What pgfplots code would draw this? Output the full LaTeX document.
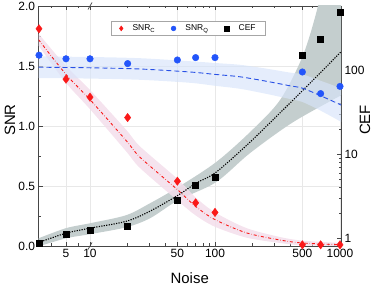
\documentclass[border=0pt]{standalone}
\usepackage{fontspec}
\setmainfont{Liberation Sans}
\usepackage{pgfplots}
\pgfplotsset{compat=1.18}
\usepgfplotslibrary{fillbetween}

\definecolor{cred}{RGB}{250,25,25}
\definecolor{cblue}{RGB}{35,85,250}
\definecolor{cbluefit}{RGB}{40,80,230}
\definecolor{cpink}{RGB}{243,222,235}
\definecolor{cbband}{RGB}{215,228,250}
\definecolor{cgband}{RGB}{196,206,206}
\definecolor{caxis}{RGB}{70,70,70}

\begin{document}
\begin{tikzpicture}
\pgfplotsset{
  common/.style={
    scale only axis, width=302.5bp, height=240bp,
    xmin=0.588, xmax=3.008,
    axis line style={caxis, line width=0.7bp},
    every tick/.style={caxis, line width=0.6bp},
    major tick length=4bp, minor tick length=2.5bp,
    tick label style={font=\fontsize{12}{13}\selectfont},
    label style={font=\fontsize{15}{16}\selectfont},
    /pgf/number format/assume math mode=true,
  }
}
% ---------------- CEF axis (right, log) ----------------
\begin{axis}[common, name=cef,
  ymode=log, ymin=0.81, ymax=578,
  hide x axis, axis y line*=right,
  ytick={1,10,100}, yticklabels={1,10,100},
  ylabel={CEF},
  ylabel style={at={(axis description cs:1.079,0.525)}, anchor=center},
]
\addplot[name path=gu, draw=none, forget plot, smooth] coordinates {
 (0.588,1.0) (0.808,1.32) (1.0,1.51) (1.288,1.88) (1.48,2.61) (1.704,4.05)
 (2.008,8.03) (2.28,18.3) (2.52,44) (2.704,150) (2.824,578) (2.92,2680) (3.008,10500)};
\addplot[name path=gl, draw=none, forget plot, smooth] coordinates {
 (0.588,0.80) (0.808,1.0) (1.0,1.12) (1.288,1.35) (1.48,1.73) (1.704,2.83)
 (2.008,4.64) (2.28,10.3) (2.624,24) (3.008,50)};
\addplot[fill=cgband, draw=none, forget plot] fill between[of=gu and gl];
\addplot[black, dash pattern=on 1.2bp off 1.3bp, line width=1.1bp, smooth, forget plot] coordinates {
 (0.588,0.89) (0.808,1.15) (1.0,1.32) (1.288,1.59) (1.48,2.1) (1.704,3.25)
 (1.848,4.52) (2.008,6.1) (2.28,13.9) (2.624,44) (2.84,92) (3.008,165)};
\addplot[only marks, mark=square*, mark size=3bp, black, forget plot] coordinates {
 (0.592,0.87) (0.808,1.12) (1.0,1.25) (1.301,1.41) (1.699,2.83) (1.845,4.31)
 (2.0,5.37) (2.699,150) (2.845,232) (3.0,486)};
\end{axis}
% ---------------- SNR axis (left, linear) ----------------
\begin{axis}[common, name=snr,
  ymin=0, ymax=2,
  ytick={0,0.5,1,1.5,2}, minor ytick={0.25,0.75,1.25,1.75},
  y tick label style={/pgf/number format/fixed, /pgf/number format/fixed zerofill,
    /pgf/number format/precision=1},
  ytick pos=left, xtick pos=both,
  xtick={0.808,1,1.699,2,2.699,3}, xticklabels={5,10,50,100,500,1000},
  minor xtick={0.688,0.904,1.301,1.477,1.602,1.778,1.845,1.903,1.954,2.301,2.477,2.602,2.778,2.845,2.903,2.954},
  grid=major, major grid style={gray!18, line width=0.4bp},
  xlabel={Noise}, ylabel={SNR},
  xlabel style={at={(axis description cs:0.5,-0.135)}, anchor=center},
  ylabel style={at={(axis description cs:-0.094,0.525)}, anchor=center},
  legend columns=3,
  legend style={at={(axis description cs:0.496,0.9375)}, anchor=north,
    font=\fontsize{8.5}{9}\selectfont, draw=gray!70, line width=0.5bp,
    inner xsep=8bp, inner ysep=1.5bp,
    /tikz/every odd column/.append style={column sep=7.5bp},
    /tikz/every even column/.append style={column sep=14bp}},
  legend image post style={mark size=2.4bp},
]
\addplot[name path=ru, draw=none, forget plot, smooth] coordinates {
 (0.588,1.77) (0.808,1.50) (1.0,1.30) (1.288,0.97) (1.4,0.83) (1.699,0.56)
 (1.845,0.405) (2.0,0.28) (2.25,0.15) (2.52,0.075) (2.699,0.045) (3.008,0.025)};
\addplot[name path=rl, draw=none, forget plot, smooth] coordinates {
 (0.588,1.67) (0.808,1.36) (1.0,1.14) (1.288,0.79) (1.4,0.65) (1.699,0.38)
 (1.845,0.255) (2.0,0.16) (2.25,0.07) (2.52,0.025) (2.699,0.005) (3.008,0.0)};
\addplot[fill=cpink, fill opacity=0.85, draw=none, forget plot] fill between[of=ru and rl];
\addplot[name path=bu, draw=none, forget plot, smooth] coordinates {
 (0.588,1.58) (1.0,1.575) (1.4,1.565) (1.8,1.54) (2.0,1.525) (2.2,1.51)
 (2.4,1.48) (2.6,1.445) (2.7,1.43) (2.85,1.375) (3.008,1.315)};
\addplot[name path=bl, draw=none, forget plot, smooth] coordinates {
 (0.588,1.40) (1.0,1.395) (1.4,1.385) (1.8,1.36) (2.0,1.335) (2.2,1.31)
 (2.4,1.27) (2.6,1.225) (2.7,1.20) (2.85,1.125) (3.008,1.035)};
\addplot[fill=cbband, fill opacity=0.65, draw=none, forget plot] fill between[of=bu and bl];
\addplot[cred, dash dot, line width=0.9bp, smooth, forget plot] coordinates {
 (0.588,1.72) (0.808,1.43) (1.0,1.22) (1.288,0.88) (1.4,0.74) (1.699,0.47)
 (1.845,0.33) (2.0,0.22) (2.25,0.11) (2.52,0.05) (2.699,0.025) (3.008,0.01)};
\addplot[cbluefit, dash pattern=on 5bp off 3bp, line width=0.9bp, smooth, forget plot] coordinates {
 (0.588,1.49) (1.0,1.485) (1.4,1.475) (1.8,1.45) (2.0,1.43) (2.2,1.41)
 (2.4,1.375) (2.6,1.335) (2.7,1.315) (2.85,1.25) (3.008,1.175)};
\addplot[only marks, mark=diamond*, mark size=4.2bp, cred] coordinates {
 (0.592,1.81) (0.808,1.39) (1.0,1.24) (1.301,1.07) (1.699,0.54) (1.845,0.36)
 (2.0,0.28) (2.699,0.01) (2.845,0.01) (3.0,0.01)};
\addlegendentry{SNR\textsubscript{C}}
\addplot[only marks, mark=*, mark size=3.3bp, cblue] coordinates {
 (0.592,1.59) (0.808,1.56) (1.0,1.56) (1.301,1.52) (1.699,1.55) (1.845,1.57)
 (2.0,1.57) (2.699,1.45) (2.845,1.27) (3.0,1.33)};
\addlegendentry{SNR\textsubscript{Q}}
\addlegendimage{only marks, mark=square*, black}
\addlegendentry{CEF}
\end{axis}
% axis break marks
\draw[caxis, line width=0.7bp] ([shift={(49.5bp,-3.5bp)}]snr.south west) -- ([shift={(53.5bp,3.5bp)}]snr.south west);
\draw[caxis, line width=0.7bp] ([shift={(49.5bp,-3.5bp)}]snr.north west) -- ([shift={(53.5bp,3.5bp)}]snr.north west);
\pgfresetboundingbox
\path[use as bounding box] ([shift={(-38.5bp,-40bp)}]snr.south west) rectangle ([shift={(335.5bp,6bp)}]snr.north west);
\end{tikzpicture}
\end{document}
